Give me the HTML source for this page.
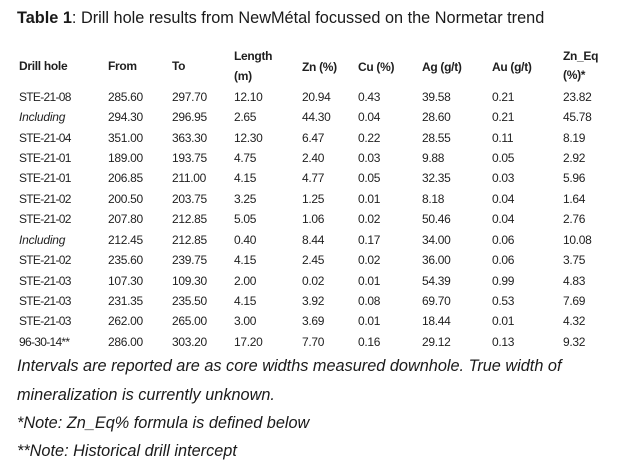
<!DOCTYPE html>
<html>
<head>
<meta charset="utf-8">
<style>
  html,body{margin:0;padding:0;background:#fff;}
  body{width:624px;height:465px;position:relative;overflow:hidden;font-family:"Liberation Sans",sans-serif;color:#1f1f1f;}
  .t{position:absolute;white-space:nowrap;font-size:12px;line-height:20px;letter-spacing:-0.3px;}
  .b{font-weight:bold;letter-spacing:-0.3px;}
  .i{font-style:italic;letter-spacing:-0.2px;}
  .s{letter-spacing:-0.7px;}
  .title{position:absolute;left:17px;top:7px;font-size:16.3px;line-height:22px;white-space:nowrap;color:#1a1a1a;}
  .fn{position:absolute;left:17px;font-size:16.3px;line-height:22px;font-style:italic;white-space:nowrap;color:#1a1a1a;}
</style>
</head>
<body>
<div class="title"><b>Table 1</b>: Drill hole results from NewMétal focussed on the Normetar trend</div>

<!-- header -->
<div class="t b" style="left:19px;top:56px;">Drill hole</div>
<div class="t b" style="left:108px;top:56px;">From</div>
<div class="t b" style="left:172px;top:56px;">To</div>
<div class="t b" style="left:234px;top:45.5px;">Length</div>
<div class="t b" style="left:234px;top:65.5px;">(m)</div>
<div class="t b" style="left:302px;top:56.5px;">Zn (%)</div>
<div class="t b" style="left:358px;top:56.5px;">Cu (%)</div>
<div class="t b" style="left:422px;top:56.5px;">Ag (g/t)</div>
<div class="t b" style="left:492px;top:56.5px;">Au (g/t)</div>
<div class="t b" style="left:563px;top:45.5px;">Zn_Eq</div>
<div class="t b" style="left:563px;top:65px;">(%)*</div>

<!-- rows -->
<div class="t s" style="left:19px;top:86.7px;">STE-21-08</div>
<div class="t" style="left:108px;top:86.7px;">285.60</div>
<div class="t" style="left:172px;top:86.7px;">297.70</div>
<div class="t" style="left:234px;top:86.7px;">12.10</div>
<div class="t" style="left:302px;top:86.7px;">20.94</div>
<div class="t" style="left:358px;top:86.7px;">0.43</div>
<div class="t" style="left:422px;top:86.7px;">39.58</div>
<div class="t" style="left:492px;top:86.7px;">0.21</div>
<div class="t" style="left:563px;top:86.7px;">23.82</div>

<div class="t i" style="left:19px;top:107.1px;">Including</div>
<div class="t" style="left:108px;top:107.1px;">294.30</div>
<div class="t" style="left:172px;top:107.1px;">296.95</div>
<div class="t" style="left:234px;top:107.1px;">2.65</div>
<div class="t" style="left:302px;top:107.1px;">44.30</div>
<div class="t" style="left:358px;top:107.1px;">0.04</div>
<div class="t" style="left:422px;top:107.1px;">28.60</div>
<div class="t" style="left:492px;top:107.1px;">0.21</div>
<div class="t" style="left:563px;top:107.1px;">45.78</div>

<div class="t s" style="left:19px;top:127.5px;">STE-21-04</div>
<div class="t" style="left:108px;top:127.5px;">351.00</div>
<div class="t" style="left:172px;top:127.5px;">363.30</div>
<div class="t" style="left:234px;top:127.5px;">12.30</div>
<div class="t" style="left:302px;top:127.5px;">6.47</div>
<div class="t" style="left:358px;top:127.5px;">0.22</div>
<div class="t" style="left:422px;top:127.5px;">28.55</div>
<div class="t" style="left:492px;top:127.5px;">0.11</div>
<div class="t" style="left:563px;top:127.5px;">8.19</div>

<div class="t s" style="left:19px;top:147.9px;">STE-21-01</div>
<div class="t" style="left:108px;top:147.9px;">189.00</div>
<div class="t" style="left:172px;top:147.9px;">193.75</div>
<div class="t" style="left:234px;top:147.9px;">4.75</div>
<div class="t" style="left:302px;top:147.9px;">2.40</div>
<div class="t" style="left:358px;top:147.9px;">0.03</div>
<div class="t" style="left:422px;top:147.9px;">9.88</div>
<div class="t" style="left:492px;top:147.9px;">0.05</div>
<div class="t" style="left:563px;top:147.9px;">2.92</div>

<div class="t s" style="left:19px;top:168.3px;">STE-21-01</div>
<div class="t" style="left:108px;top:168.3px;">206.85</div>
<div class="t" style="left:172px;top:168.3px;">211.00</div>
<div class="t" style="left:234px;top:168.3px;">4.15</div>
<div class="t" style="left:302px;top:168.3px;">4.77</div>
<div class="t" style="left:358px;top:168.3px;">0.05</div>
<div class="t" style="left:422px;top:168.3px;">32.35</div>
<div class="t" style="left:492px;top:168.3px;">0.03</div>
<div class="t" style="left:563px;top:168.3px;">5.96</div>

<div class="t s" style="left:19px;top:188.8px;">STE-21-02</div>
<div class="t" style="left:108px;top:188.8px;">200.50</div>
<div class="t" style="left:172px;top:188.8px;">203.75</div>
<div class="t" style="left:234px;top:188.8px;">3.25</div>
<div class="t" style="left:302px;top:188.8px;">1.25</div>
<div class="t" style="left:358px;top:188.8px;">0.01</div>
<div class="t" style="left:422px;top:188.8px;">8.18</div>
<div class="t" style="left:492px;top:188.8px;">0.04</div>
<div class="t" style="left:563px;top:188.8px;">1.64</div>

<div class="t s" style="left:19px;top:209.2px;">STE-21-02</div>
<div class="t" style="left:108px;top:209.2px;">207.80</div>
<div class="t" style="left:172px;top:209.2px;">212.85</div>
<div class="t" style="left:234px;top:209.2px;">5.05</div>
<div class="t" style="left:302px;top:209.2px;">1.06</div>
<div class="t" style="left:358px;top:209.2px;">0.02</div>
<div class="t" style="left:422px;top:209.2px;">50.46</div>
<div class="t" style="left:492px;top:209.2px;">0.04</div>
<div class="t" style="left:563px;top:209.2px;">2.76</div>

<div class="t i" style="left:19px;top:229.6px;">Including</div>
<div class="t" style="left:108px;top:229.6px;">212.45</div>
<div class="t" style="left:172px;top:229.6px;">212.85</div>
<div class="t" style="left:234px;top:229.6px;">0.40</div>
<div class="t" style="left:302px;top:229.6px;">8.44</div>
<div class="t" style="left:358px;top:229.6px;">0.17</div>
<div class="t" style="left:422px;top:229.6px;">34.00</div>
<div class="t" style="left:492px;top:229.6px;">0.06</div>
<div class="t" style="left:563px;top:229.6px;">10.08</div>

<div class="t s" style="left:19px;top:250.1px;">STE-21-02</div>
<div class="t" style="left:108px;top:250.1px;">235.60</div>
<div class="t" style="left:172px;top:250.1px;">239.75</div>
<div class="t" style="left:234px;top:250.1px;">4.15</div>
<div class="t" style="left:302px;top:250.1px;">2.45</div>
<div class="t" style="left:358px;top:250.1px;">0.02</div>
<div class="t" style="left:422px;top:250.1px;">36.00</div>
<div class="t" style="left:492px;top:250.1px;">0.06</div>
<div class="t" style="left:563px;top:250.1px;">3.75</div>

<div class="t s" style="left:19px;top:270.5px;">STE-21-03</div>
<div class="t" style="left:108px;top:270.5px;">107.30</div>
<div class="t" style="left:172px;top:270.5px;">109.30</div>
<div class="t" style="left:234px;top:270.5px;">2.00</div>
<div class="t" style="left:302px;top:270.5px;">0.02</div>
<div class="t" style="left:358px;top:270.5px;">0.01</div>
<div class="t" style="left:422px;top:270.5px;">54.39</div>
<div class="t" style="left:492px;top:270.5px;">0.99</div>
<div class="t" style="left:563px;top:270.5px;">4.83</div>

<div class="t s" style="left:19px;top:290.9px;">STE-21-03</div>
<div class="t" style="left:108px;top:290.9px;">231.35</div>
<div class="t" style="left:172px;top:290.9px;">235.50</div>
<div class="t" style="left:234px;top:290.9px;">4.15</div>
<div class="t" style="left:302px;top:290.9px;">3.92</div>
<div class="t" style="left:358px;top:290.9px;">0.08</div>
<div class="t" style="left:422px;top:290.9px;">69.70</div>
<div class="t" style="left:492px;top:290.9px;">0.53</div>
<div class="t" style="left:563px;top:290.9px;">7.69</div>

<div class="t s" style="left:19px;top:311.3px;">STE-21-03</div>
<div class="t" style="left:108px;top:311.3px;">262.00</div>
<div class="t" style="left:172px;top:311.3px;">265.00</div>
<div class="t" style="left:234px;top:311.3px;">3.00</div>
<div class="t" style="left:302px;top:311.3px;">3.69</div>
<div class="t" style="left:358px;top:311.3px;">0.01</div>
<div class="t" style="left:422px;top:311.3px;">18.44</div>
<div class="t" style="left:492px;top:311.3px;">0.01</div>
<div class="t" style="left:563px;top:311.3px;">4.32</div>

<div class="t s" style="left:19px;top:331.8px;">96-30-14**</div>
<div class="t" style="left:108px;top:331.8px;">286.00</div>
<div class="t" style="left:172px;top:331.8px;">303.20</div>
<div class="t" style="left:234px;top:331.8px;">17.20</div>
<div class="t" style="left:302px;top:331.8px;">7.70</div>
<div class="t" style="left:358px;top:331.8px;">0.16</div>
<div class="t" style="left:422px;top:331.8px;">29.12</div>
<div class="t" style="left:492px;top:331.8px;">0.13</div>
<div class="t" style="left:563px;top:331.8px;">9.32</div>

<!-- footnotes -->
<div class="fn" style="top:355px;">Intervals are reported are as core widths measured downhole. True width of</div>
<div class="fn" style="top:384px;">mineralization is currently unknown.</div>
<div class="fn" style="top:412px;">*Note: Zn_Eq% formula is defined below</div>
<div class="fn" style="top:440px;">**Note: Historical drill intercept</div>
</body>
</html>
